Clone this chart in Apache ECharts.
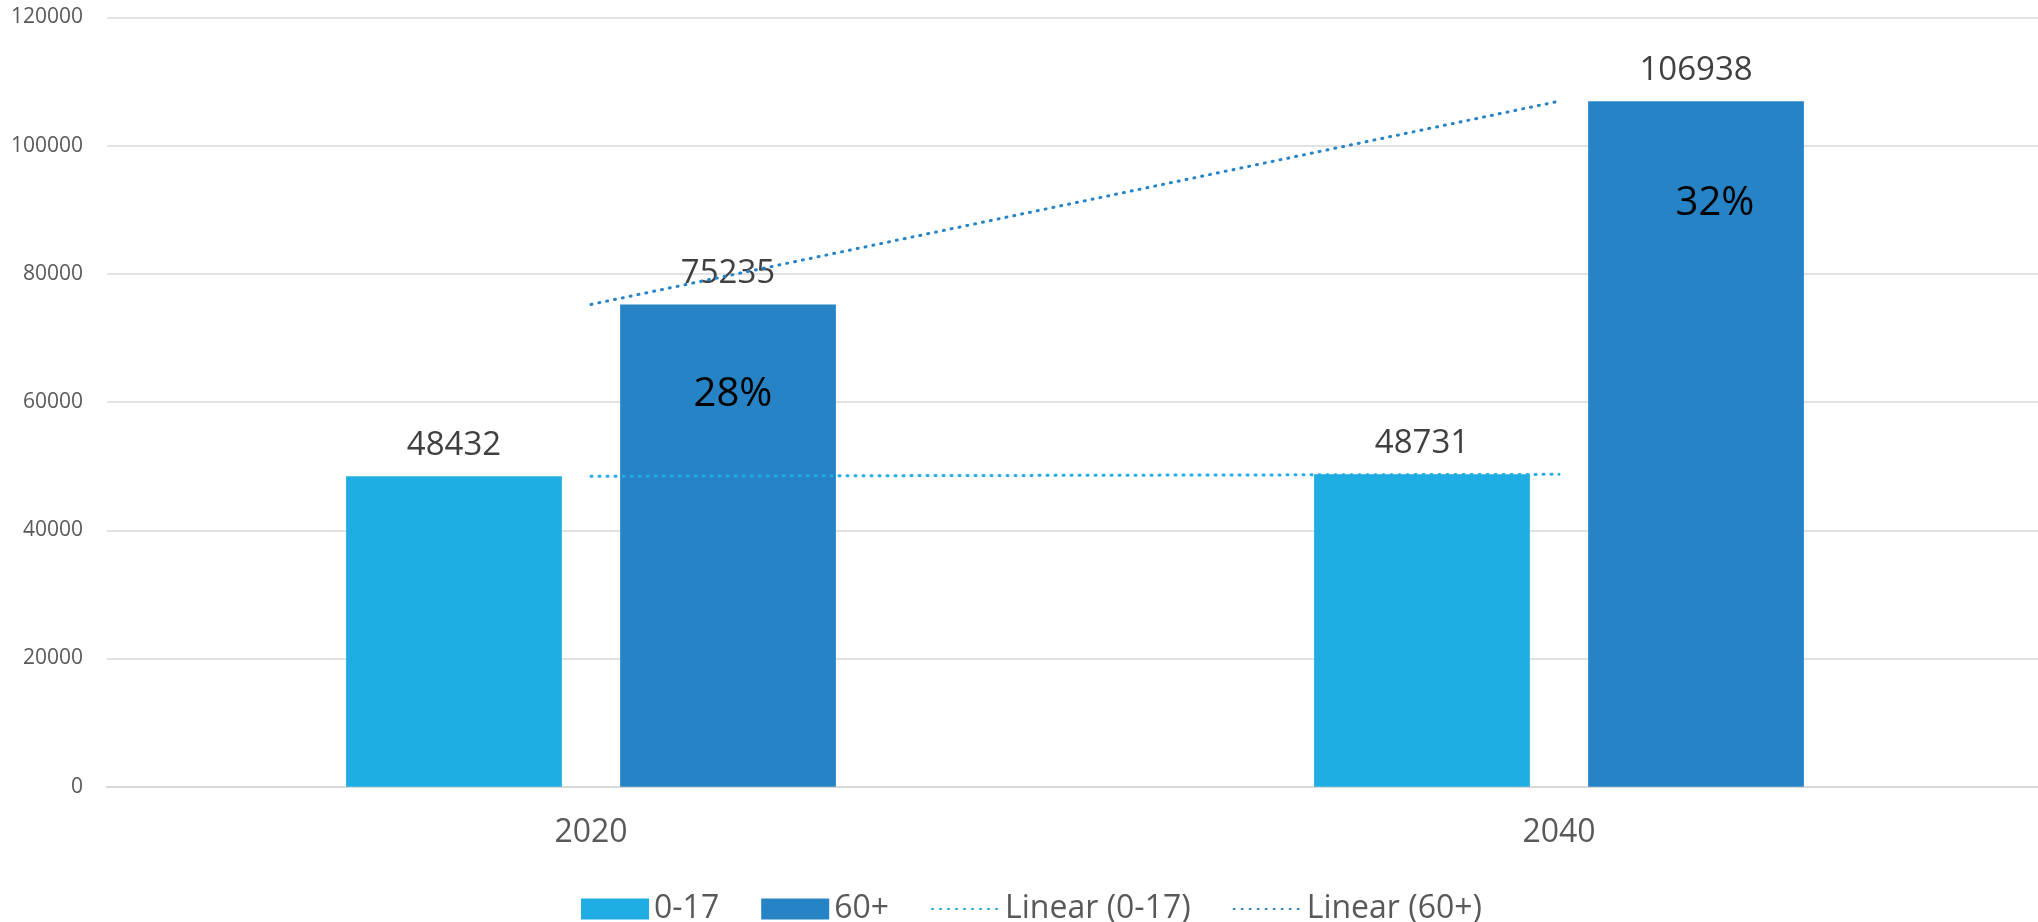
<!DOCTYPE html>
<html>
<head>
<meta charset="utf-8">
<script src="https://cdn.jsdelivr.net/npm/echarts@6/dist/echarts.min.js"></script>
<style>
html,body{margin:0;padding:0;background:#fff;}
#chart{width:2038px;height:922px;}
</style>
</head>
<body>
<div id="chart"></div>
<script>
const categories = ['2020', '2040'];
const values0to17 = [48432, 48731];
const values60plus = [75235, 106938];
const share60plus = ['28%', '32%'];
const yTicks = [0, 20000, 40000, 60000, 80000, 100000, 120000];

const FONT = 'Open Sans';
const C1 = '#1FADE4';
const C2 = '#2683C6';

const chart = echarts.init(document.getElementById('chart'), null, {renderer: 'canvas'});

const shareOffsets = [[5, 90], [19, 102]];
const hiddenSymbol = {color: 'rgba(0,0,0,0)', borderColor: 'rgba(0,0,0,0)', borderWidth: 0, opacity: 0};

chart.setOption({
  animation: false,
  backgroundColor: '#ffffff',
  textStyle: {fontFamily: FONT},
  grid: {left: 107, right: -5, top: 17.5, bottom: 135.3, containLabel: false, outerBoundsMode: 'none'},
  legend: {
    top: 888,
    left: 576,
    itemWidth: 68,
    itemHeight: 21,
    itemGap: 42,
    textStyle: {fontFamily: FONT, fontSize: 32, color: '#595959'},
    data: [
      {name: '0-17', icon: 'rect'},
      {name: '60+', icon: 'rect'},
      {name: 'Linear (0-17)', itemStyle: hiddenSymbol},
      {name: 'Linear (60+)', itemStyle: hiddenSymbol}
    ]
  },
  xAxis: {
    type: 'category',
    data: categories,
    boundaryGap: true,
    axisLine: {show: true, lineStyle: {color: '#d9d9d9', width: 2}},
    axisTick: {show: false},
    axisLabel: {fontFamily: FONT, fontSize: 32, color: '#595959', margin: 30},
    splitLine: {show: false}
  },
  yAxis: {
    type: 'value',
    min: yTicks[0],
    max: yTicks[yTicks.length - 1],
    interval: yTicks[1] - yTicks[0],
    axisLine: {show: false},
    axisTick: {show: false},
    axisLabel: {fontFamily: FONT, fontSize: 21, color: '#595959', margin: 24, formatter: v => String(v)},
    splitLine: {show: true, lineStyle: {color: '#d9d9d9', width: 1.5}}
  },
  series: [
    {
      name: '0-17',
      type: 'bar',
      data: values0to17,
      itemStyle: {color: C1},
      barCategoryGap: '49.4%',
      barGap: '27%',
      label: {show: true, position: 'top', distance: 14, fontFamily: FONT, fontSize: 33, color: '#404040'}
    },
    {
      name: '60+',
      type: 'bar',
      data: values60plus,
      itemStyle: {color: C2},
      barCategoryGap: '49.4%',
      barGap: '27%',
      label: {show: true, position: 'top', distance: 14, fontFamily: FONT, fontSize: 33, color: '#404040'},
      markPoint: {
        symbol: 'circle',
        symbolSize: 1,
        itemStyle: {color: 'rgba(0,0,0,0)'},
        silent: true,
        data: categories.map((c, i) => ({
          coord: [c, values60plus[i]],
          value: share60plus[i],
          label: {
            show: true,
            position: 'inside',
            offset: shareOffsets[i],
            formatter: share60plus[i],
            fontFamily: FONT,
            fontSize: 40,
            color: '#000000'
          }
        }))
      }
    },
    {
      name: 'Linear (0-17)',
      type: 'line',
      data: values0to17,
      symbol: 'none',
      z: 5,
      lineStyle: {color: C1, width: 3, type: [1, 7], cap: 'round'},
      itemStyle: {color: C1}
    },
    {
      name: 'Linear (60+)',
      type: 'line',
      data: values60plus,
      symbol: 'none',
      z: 5,
      lineStyle: {color: C2, width: 3, type: [1, 7], cap: 'round'},
      itemStyle: {color: C2}
    }
  ]
});
</script>
</body>
</html>
